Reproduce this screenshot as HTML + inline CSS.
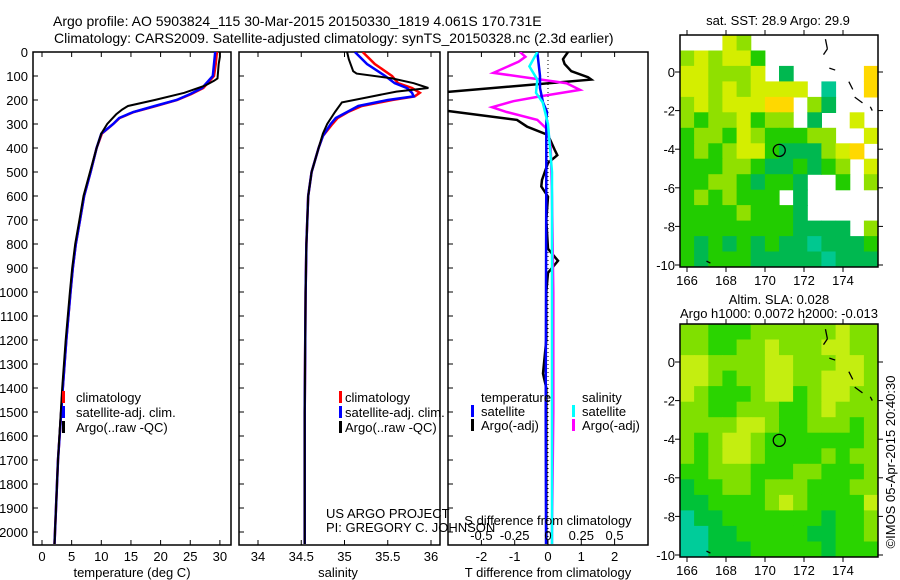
<!DOCTYPE html>
<html><head><meta charset="utf-8"><style>
html,body{margin:0;padding:0;background:#fff}
svg{display:block;font-family:"Liberation Sans",sans-serif}
text{font-size:13px;fill:#000}
</style></head><body>
<svg id="s" width="900" height="580" viewBox="0 0 900 580">
<text x="53" y="26" style="font-size:14px">Argo profile: AO 5903824_115 30-Mar-2015 20150330_1819 4.061S 170.731E</text>
<text x="54" y="43" style="font-size:14px">Climatology: CARS2009. Satellite-adjusted climatology: synTS_20150328.nc (2.3d earlier)</text>
<g id="g"></g>
</svg>
<script>
// ---------- data ----------
const depthTemp = [0,50,100,150,175,200,225,250,275,300,340,400,500,600,700,800,900,1000,1200,1400,1700,2000,2050];
const tempClim  = [29.5,29.3,29.0,27.2,25.2,22.8,19.2,15.5,13.1,12.0,10.1,9.2,8.2,7.1,6.4,5.7,5.2,4.8,4.1,3.5,2.7,2.2,2.1];
const tempSat   = [29.2,29.0,28.8,27.0,25.0,22.7,19.0,15.4,13.0,12.0,10.0,9.2,8.2,7.1,6.4,5.7,5.2,4.8,4.1,3.5,2.7,2.2,2.1];
const depthArgoT = [0,20,50,110,120,140,170,200,225,240,260,300,340,400,500,600,700,800,900,1000,1200,1400,1700,2000,2050];
const tempArgo   = [30.0,30.0,29.8,29.6,29.0,27.5,24.0,19.0,14.5,13.5,12.5,11.0,10.0,9.2,8.1,7.0,6.3,5.6,5.1,4.7,4.0,3.4,2.7,2.2,2.1];

const depthSal = [0,50,100,130,150,170,185,200,225,250,275,300,350,400,500,600,800,1000,1500,2000,2050];
const salClim  = [35.21,35.35,35.55,35.62,35.78,35.87,35.81,35.55,35.20,35.04,34.92,34.86,34.75,34.70,34.62,34.58,34.56,34.55,34.54,34.54,34.54];
const salSat   = [35.12,35.26,35.47,35.58,35.72,35.78,35.80,35.50,35.16,35.03,34.90,34.84,34.75,34.70,34.62,34.58,34.56,34.55,34.54,34.54,34.54];
const depthArgoS = [0,30,80,90,110,130,150,165,190,210,250,300,340,400,500,600,800,1000,1500,2000,2050];
const salArgo    = [35.03,35.05,35.10,35.14,35.55,35.80,35.97,35.60,35.25,34.97,34.89,34.80,34.75,34.70,34.62,34.58,34.56,34.55,34.54,34.54,34.54];

const depthDT = [0,20,30,50,80,105,115,172,200,230,246,283,311,346,408,430,462,533,560,603,700,820,870,920,1000,1200,1340,1400,1600,2000,2050];
const dTArgo  = [0.6,0.5,0.45,0.5,0.7,1.2,1.3,-3.5,-4.5,-4.5,-3.0,-0.93,-0.63,0.0,0.2,0.28,0.0,-0.18,-0.2,0.0,-0.05,0.0,0.3,0.0,-0.05,-0.05,-0.15,-0.05,-0.05,-0.05,-0.05];
const depthDTs = [0,100,150,210,250,300,500,1000,1500,2000,2050];
const dTSat    = [-0.32,-0.24,-0.24,-0.15,-0.03,-0.05,-0.05,-0.06,-0.07,-0.06,-0.06];
const depthDS = [0,20,40,87,107,130,158,185,205,230,250,283,325,400,600,1000,1500,2000,2050];
const dSArgo  = [-0.21,-0.17,-0.22,-0.41,-0.15,0.14,0.24,-0.06,-0.26,-0.42,-0.31,-0.08,0.0,0.02,0.03,0.04,0.04,0.03,0.03];
const depthDSs = [0,60,115,170,210,300,500,1000,1500,2000,2050];
const dSSat    = [-0.08,-0.14,-0.08,-0.09,-0.04,0.0,0.03,0.03,0.03,0.03,0.03];

const depthTicks = [0,100,200,300,400,500,600,700,800,900,1000,1100,1200,1300,1400,1500,1600,1700,1800,1900,2000];
const tempTicks = [0,5,10,15,20,25,30];
const salTicks = [34,34.5,35,35.5,36];
const salTickLabels = ["34","34.5","35","35.5","36"];
const dTTicks = [-2,-1,0,1,2];
const dSTicks = [-0.5,-0.25,0,0.25,0.5];
const dSTickLabels = ["-0.5","-0.25","0","0.25","0.5"];
const latTicks = [0,-2,-4,-6,-8,-10];
const lonTicks = [166,168,170,172,174];
const floatLon = 170.731, floatLat = -4.061;

// map grids (lat rows top->bottom, lon cols left->right), colour codes
const sstGrid = [
"wwwylwwwwwwwww",
"lylyygwwwwwwww",
"yylllywdwwwwwo",
"yylylyyyywtwwo",
"lylyyyoowldwww",
"lgllygllwdwwyw",
"gllgylgggllwwy",
"glglyygdddlyow",
"gggllgddgdglwy",
"ggllgdggdwwgwl",
"glglgggwdwwwww",
"gggglgggdwwwww",
"ggggggggddddwl",
"gdgdgdgddtdddg",
"gdgggdddddtddd"];
const slaGrid = [
"llgggllllllyll",
"llggllylllyyll",
"yyllllyylllyyl",
"yylgllyyllyyyl",
"ylggglyyglyyll",
"llgglllgglylll",
"llllyylgglllgl",
"lglyylgggggggl",
"lglyylgggglgll",
"gglllgggllgggl",
"dggllglllgggll",
"ddgggglylggggy",
"tddgggggggdggl",
"ttddgggggddggl",
"ttdddgggggdggg"];
const sstColors = {w:"#ffffff",y:"#d4ee00",l:"#90e000",g:"#22cc00",d:"#00b850",t:"#00c890",o:"#ffd800"};
const slaColors = {y:"#c4ee10",l:"#80e000",g:"#2ad400",d:"#00c238",t:"#00cc9a"};

// ---------- helpers ----------
const NS="http://www.w3.org/2000/svg";
const G=document.getElementById('g');
function mk(tag,attrs,parent){const e=document.createElementNS(NS,tag);for(const k in attrs)e.setAttribute(k,attrs[k]);(parent||G).appendChild(e);return e;}
const yD = d => 52 + d*0.24;
const xT = v => 42 + v*5.93;
const xS = v => 258 + (v-34)*86.5;
const xDT = v => 548 + v*33.3;
const xDS = v => 548 + v*133.2;

function panel(x0,x1,name){
  const r=mk('rect',{x:x0,y:52,width:x1-x0,height:493,fill:'none',stroke:'#000','stroke-width':1.5});
  
  
}
function line(xs,ds,fx,col,w,clip,name){
  const p=xs.map((v,i)=>(i?'L':'M')+fx(v).toFixed(1)+','+yD(ds[i]).toFixed(1)).join('');
  const e=mk('path',{d:p,fill:'none',stroke:col,'stroke-width':w,'clip-path':clip?'url(#'+clip+')':''});
  
  
}
function txt(x,y,s,anchor,name,extra){
  const e=mk('text',Object.assign({x:x,y:y,'text-anchor':anchor||'start'},extra||{}));
  e.textContent=s;
  
  
  return e;
}
function bar(x,y,col,name){
  const e=mk('rect',{x:x,y:y-11,width:3,height:12,fill:col});
  
  
}
const defs=mk('defs',{});
[['c1',33,231],['c2',239,440],['c3',448,648]].forEach(([id,a,b])=>{const c=mk('clipPath',{id:id},defs);mk('rect',{x:a,y:52,width:b-a,height:493},c);});
const cm1=mk('clipPath',{id:'m1'},defs);mk('rect',{x:680,y:35,width:198,height:232},cm1);
const cm2=mk('clipPath',{id:'m2'},defs);mk('rect',{x:680,y:324,width:198,height:233},cm2);

// depth ticks
depthTicks.forEach(d=>{
  txt(28,yD(d)+5,String(d),'end','depth-tick-label');
  [[33,231],[239,440],[448,648]].forEach(([a,b])=>{
    mk('line',{x1:a,y1:yD(d),x2:a+5,y2:yD(d),stroke:'#000'});
  });
});

// panel 1 temperature
panel(33,231,'temperature-panel');
tempTicks.forEach(v=>{mk('line',{x1:xT(v),y1:545,x2:xT(v),y2:540,stroke:'#000'});mk('line',{x1:xT(v),y1:52,x2:xT(v),y2:57,stroke:'#000'});txt(xT(v),561,String(v),'middle','temperature-tick-label');});
txt(132,577,'temperature (deg C)','middle','temperature-axis-title');
line(tempClim,depthTemp,xT,'#ff0000',2.5,'c1','temperature-climatology-line');
line(tempSat,depthTemp,xT,'#0000ff',2.5,'c1','temperature-satellite-line');
line(tempArgo,depthArgoT,xT,'#000000',2,'c1','temperature-argo-line');
bar(62,402,'#ff0000','legend-climatology-swatch');txt(76,402,'climatology','start','legend-climatology');
bar(62,417,'#0000ff','legend-satellite-swatch');txt(76,417,'satellite-adj. clim.','start','legend-satellite-adj');
bar(62,432,'#000000','legend-argo-swatch');txt(76,432,'Argo(..raw -QC)','start','legend-argo');

// panel 2 salinity
panel(239,440,'salinity-panel');
salTicks.forEach((v,i)=>{mk('line',{x1:xS(v),y1:545,x2:xS(v),y2:540,stroke:'#000'});mk('line',{x1:xS(v),y1:52,x2:xS(v),y2:57,stroke:'#000'});txt(xS(v),561,salTickLabels[i],'middle','salinity-tick-label');});
txt(338,577,'salinity','middle','salinity-axis-title');
line(salClim,depthSal,xS,'#ff0000',2.5,'c2','salinity-climatology-line');
line(salSat,depthSal,xS,'#0000ff',2.5,'c2','salinity-satellite-line');
line(salArgo,depthArgoS,xS,'#000000',2,'c2','salinity-argo-line');
bar(339,402,'#ff0000','legend2-climatology-swatch');txt(345,402,'climatology','start','legend2-climatology');
bar(339,417,'#0000ff','legend2-satellite-swatch');txt(345,417,'satellite-adj. clim.','start','legend2-satellite-adj');
bar(339,432,'#000000','legend2-argo-swatch');txt(345,432,'Argo(..raw -QC)','start','legend2-argo');
txt(326,518,'US ARGO PROJECT','start','project-label');
txt(326,532,'PI: GREGORY C. JOHNSON','start','pi-label');

// panel 3 differences
panel(448,648,'difference-panel');
mk('line',{x1:548,y1:52,x2:548,y2:545,stroke:'#000','stroke-dasharray':'1,3'});
dTTicks.forEach(v=>{mk('line',{x1:xDT(v),y1:545,x2:xDT(v),y2:540,stroke:'#000'});mk('line',{x1:xDT(v),y1:52,x2:xDT(v),y2:57,stroke:'#000'});txt(xDT(v),561,String(v),'middle','t-diff-tick-label');});
line(dTArgo,depthDT,xDT,'#000000',2.5,'c3','t-diff-argo-line');
line(dSArgo,depthDS,xDS,'#ff00ff',2.5,'c3','s-diff-argo-line');
line(dTSat,depthDTs,xDT,'#0000ff',2.5,'c3','t-diff-satellite-line');
line(dSSat,depthDSs,xDS,'#00ffff',2.5,'c3','s-diff-satellite-line');
txt(548,525,'S difference from climatology','middle','s-diff-axis-title');
dSTicks.forEach((v,i)=>txt(xDS(v),540,dSTickLabels[i],'middle','s-diff-tick-label'));
txt(548,577,'T difference from climatology','middle','t-diff-axis-title');
txt(481,402,'temperature','start','legend3-temperature-header');
bar(471,416,'#0000ff','legend3-t-satellite-swatch');txt(481,416,'satellite','start','legend3-t-satellite');
bar(471,430,'#000000','legend3-t-argo-swatch');txt(481,430,'Argo(-adj)','start','legend3-t-argo');
txt(582,402,'salinity','start','legend3-salinity-header');
bar(572,416,'#00ffff','legend3-s-satellite-swatch');txt(582,416,'satellite','start','legend3-s-satellite');
bar(572,430,'#ff00ff','legend3-s-argo-swatch');txt(582,430,'Argo(-adj)','start','legend3-s-argo');

// maps
const lonX = l => 687 + (l-166)*19.5;
function drawMap(grid,colors,top,bottom,lat0y,clip,name){
  const x0=680,x1=878,rows=grid.length,cols=grid[0].length;
  const cw=(x1-x0)/cols,ch=(bottom-top)/rows;
  const g=mk('g',{'clip-path':'url(#'+clip+')'});
  
  
  grid.forEach((row,r)=>{for(let c=0;c<cols;c++){const col=colors[row[c]];if(col&&col!=='#ffffff')mk('rect',{x:(x0+c*cw).toFixed(1),y:(top+r*ch).toFixed(1),width:(cw+0.6).toFixed(1),height:(ch+0.6).toFixed(1),fill:col},g);}});
  const latY = l => lat0y - l*19.3;
  // coast squiggles
  [[173.1,1.7,173.2,1.2],[173.2,1.2,173.0,0.9],[173.3,0.2,173.6,0.1],[174.3,-0.5,174.5,-0.9],[174.6,-1.3,175.0,-1.6],[175.4,-1.8,175.5,-2.0],[167.0,-9.8,167.2,-9.9]].forEach(s=>mk('line',{x1:lonX(s[0]),y1:latY(s[1]),x2:lonX(s[2]),y2:latY(s[3]),stroke:'#000','stroke-width':1.3},g));
  const fr=mk('rect',{x:x0,y:top,width:x1-x0,height:bottom-top,fill:'none',stroke:'#000','stroke-width':1.5});
  
  
  latTicks.forEach(l=>{const y=latY(l);mk('line',{x1:x0,y1:y,x2:x0-5,y2:y,stroke:'#000'});mk('line',{x1:x1,y1:y,x2:x1+5,y2:y,stroke:'#000'});txt(675,y+5,String(l),'end',name+'-lat-label');});
  lonTicks.forEach(l=>{const x=lonX(l);mk('line',{x1:x,y1:bottom,x2:x,y2:bottom+5,stroke:'#000'});mk('line',{x1:x,y1:top,x2:x,y2:top-5,stroke:'#000'});txt(x,bottom+18,String(l),'middle',name+'-lon-label');});
  const c=mk('circle',{cx:lonX(floatLon),cy:latY(floatLat),r:6,fill:'none',stroke:'#000','stroke-width':1.3});
  
  
}
drawMap(sstGrid,sstColors,35,267,72,'m1','sst-map');
drawMap(slaGrid,slaColors,324,557,362,'m2','sla-map');
txt(778,25,'sat. SST: 28.9 Argo: 29.9','middle','sst-map-title');
txt(779,304,'Altim. SLA: 0.028','middle','sla-map-title');
txt(779,318,'Argo h1000: 0.0072 h2000: -0.013','middle','sla-map-subtitle');
txt(0,0,'©IMOS 05-Apr-2015 20:40:30','middle','imos-credit',{transform:'translate(895,462) rotate(-90)'});
</script>
</body></html>
